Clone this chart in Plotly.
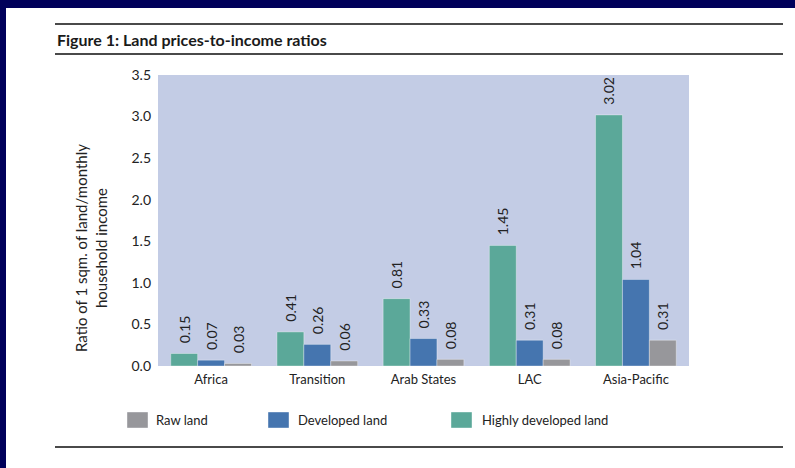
import plotly.graph_objects as go

categories = ["Africa", "Transition", "Arab States", "LAC", "Asia-Pacific"]
highly_developed = [0.15, 0.41, 0.81, 1.45, 3.02]
developed = [0.07, 0.26, 0.33, 0.31, 1.04]
raw = [0.03, 0.06, 0.08, 0.08, 0.31]
series_names = ["Highly developed land", "Developed land", "Raw land"]
y_ticks = [0.0, 0.5, 1.0, 1.5, 2.0, 2.5, 3.0, 3.5]

colors = {"Highly developed land": "#5BA899", "Developed land": "#4575AF", "Raw land": "#97979B"}
FONT = "Lato, sans-serif"

W, H = 795, 468
L, R, T, B = 158, 689, 75, 366
def px(x):
    return (x - L) / (R - L)
def py(y):
    return (B - y) / (B - T)

fig = go.Figure()
for name, vals in zip(series_names, [highly_developed, developed, raw]):
    fig.add_trace(go.Bar(
        x=categories, y=vals, name=name,
        marker=dict(color=colors[name], line=dict(color="rgba(255,255,255,0.35)", width=1)),
        text=["\u00a0\u00a0" + f"{v:.2f}" for v in vals], textposition="outside", textangle=-90,
        textfont=dict(family=FONT, size=14, color="#222"),
        constraintext="none", cliponaxis=False, showlegend=False,
    ))

shapes = [
    dict(type="rect", xref="paper", yref="paper", x0=px(-5), x1=px(800), y0=py(-5), y1=py(8),
         fillcolor="#00005A", line_width=0, layer="below"),
    dict(type="rect", xref="paper", yref="paper", x0=px(-5), x1=px(6), y0=py(-5), y1=py(475),
         fillcolor="#00005A", line_width=0, layer="below"),
]
for yy in [24, 54, 447]:
    shapes.append(dict(type="line", xref="paper", yref="paper", x0=px(55), x1=px(783),
                       y0=py(yy), y1=py(yy), line=dict(color="#4a4a4a", width=2)))

annotations = [
    dict(text="<b>Figure 1: Land prices-to-income ratios</b>", xref="paper", yref="paper",
         x=px(55), y=py(40), xanchor="left", yanchor="middle", showarrow=False,
         font=dict(family=FONT, size=16, color="#1a1a1a")),
    dict(text="Ratio of 1 sqm. of land/monthly<br>household income", xref="paper", yref="paper",
         x=px(91), y=py(248), xanchor="center", yanchor="middle", showarrow=False, textangle=-90,
         font=dict(family=FONT, size=15, color="#222")),
]

legend_items = [("Raw land", 127, 154), ("Developed land", 268, 296), ("Highly developed land", 451, 480)]
for name, sx, tx in legend_items:
    shapes.append(dict(type="rect", xref="paper", yref="paper", x0=px(sx), x1=px(sx + 21),
                       y0=py(412), y1=py(428), fillcolor=colors[name],
                       line=dict(color="rgba(255,255,255,0.4)", width=1)))
    annotations.append(dict(text=name, xref="paper", yref="paper", x=px(tx), y=py(420),
                            xanchor="left", yanchor="middle", showarrow=False,
                            font=dict(family=FONT, size=13, color="#222")))

fig.update_layout(
    width=W, height=H, barmode="group", bargap=0.24, bargroupgap=0.0,
    margin=dict(l=L, r=W - R, t=T, b=H - B),
    paper_bgcolor="white", plot_bgcolor="#C3CCE5",
    font=dict(family=FONT, size=14, color="#222"),
    shapes=shapes, annotations=annotations, showlegend=False,
)
fig.update_yaxes(range=[0, 3.5], tickvals=y_ticks, ticktext=[f"{v:.1f}" for v in y_ticks],
                 showgrid=False, zeroline=False, showline=False, ticks="",
                 ticklabelstandoff=6, tickfont=dict(family=FONT, size=14, color="#222"))
fig.update_xaxes(showgrid=False, showline=False, ticks="", ticklabelstandoff=4,
                 tickfont=dict(family=FONT, size=13, color="#222"))

fig.write_html("out.html", config={"displayModeBar": False},
               post_script="document.body.style.margin='0';")
